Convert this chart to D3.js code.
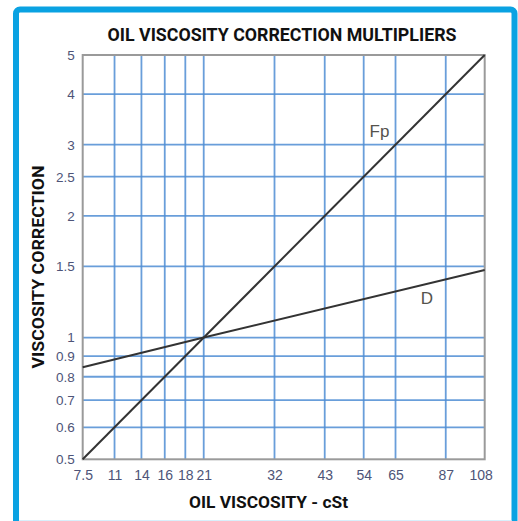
<!DOCTYPE html>
<html>
<head>
<meta charset="utf-8">
<script src="https://cdn.jsdelivr.net/npm/d3@7/dist/d3.min.js"></script>
<style>
  html, body { margin: 0; padding: 0; background: #fff; }
  svg { display: block; }
</style>
</head>
<body>
<script>
// Underlying x positions are SSU values; labels are the equivalent cSt values
const xTickSSU = [50, 60, 70, 80, 90, 100, 150, 200, 250, 300, 400, 500];
const xTickLabels = ["7.5", "11", "14", "16", "18", "21", "32", "43", "54", "65", "87", "108"];
const yTicks = [0.5, 0.6, 0.7, 0.8, 0.9, 1, 1.5, 2, 2.5, 3, 4, 5];
const yTickLabels = ["0.5", "0.6", "0.7", "0.8", "0.9", "1", "1.5", "2", "2.5", "3", "4", "5"];
const fpSSU = [50, 500];
const fpValues = [0.5, 5];
const dSSU = [50, 100, 500];
const dValues = [0.845, 1, 1.47];

const W = 518, H = 521;
const pLeft = 82.7, pRight = 484.7, pTop = 55, pBottom = 459.3;

const svg = d3.select("body").append("svg").attr("width", W).attr("height", H);

// outer blue frame (bottom edge falls just outside the picture)
svg.append("rect")
  .attr("x", 16).attr("y", 9.5).attr("width", 498.5).attr("height", 515)
  .attr("rx", 4).attr("fill", "none").attr("stroke", "#0aa2e2").attr("stroke-width", 6);
svg.append("line").attr("x1", 19).attr("x2", 511.5).attr("y1", 520.5).attr("y2", 520.5)
  .attr("stroke", "#d8f0fb").attr("stroke-width", 1);

const x = d3.scaleLog().domain([50, 500]).range([pLeft, pRight]);
const y = d3.scaleLog().domain([0.5, 5]).range([pBottom, pTop]);

// grid
const grid = svg.append("g").attr("stroke", "#4f8dd3").attr("stroke-width", 1.8).attr("stroke-opacity", 0.85);
grid.selectAll("line.v").data(xTickSSU.slice(1, -1)).join("line")
  .attr("x1", d => x(d)).attr("x2", d => x(d)).attr("y1", pTop).attr("y2", pBottom);
grid.selectAll("line.h").data(yTicks.slice(1, -1)).join("line")
  .attr("y1", d => y(d)).attr("y2", d => y(d)).attr("x1", pLeft).attr("x2", pRight);

// plot border
svg.append("rect").attr("x", pLeft).attr("y", pTop).attr("width", pRight - pLeft).attr("height", pBottom - pTop)
  .attr("fill", "none").attr("stroke", "#9a9a9a").attr("stroke-width", 2);

// axes labels
const xAxis = d3.axisBottom(x).tickValues(xTickSSU)
  .tickFormat((d, i) => xTickLabels[i]).tickSize(0).tickPadding(11);
const gx = svg.append("g").attr("transform", `translate(0,${pBottom})`).call(xAxis);
gx.select(".domain").remove();
gx.selectAll("text").attr("font-family", "Liberation Sans, Arial, sans-serif").attr("font-size", 14).attr("fill", "#4e5478")
  .attr("dx", (d, i) => i === xTickSSU.length - 1 ? -4 : 0);

const yAxis = d3.axisLeft(y).tickValues(yTicks)
  .tickFormat((d, i) => yTickLabels[i]).tickSize(0).tickPadding(8);
const gy = svg.append("g").attr("transform", `translate(${pLeft},0)`).call(yAxis);
gy.select(".domain").remove();
gy.selectAll("text").attr("font-family", "Liberation Sans, Arial, sans-serif").attr("font-size", 13.5).attr("fill", "#4e5478");

// curves
const line = d3.line().x(d => x(d[0])).y(d => y(d[1]));
svg.append("path").datum(fpSSU.map((s, i) => [s, fpValues[i]]))
  .attr("d", line).attr("fill", "none").attr("stroke", "#333").attr("stroke-width", 2);
svg.append("path").datum(dSSU.map((s, i) => [s, dValues[i]]))
  .attr("d", line).attr("fill", "none").attr("stroke", "#333").attr("stroke-width", 2);

// curve labels
svg.append("text").attr("x", x(300) - 26).attr("y", y(3) - 8)
  .attr("font-family", "Liberation Sans, Arial, sans-serif").attr("font-size", 17).attr("fill", "#55534d").text("Fp");
svg.append("text").attr("x", x(400) - 25).attr("y", y(1.2) - 2)
  .attr("font-family", "Liberation Sans, Arial, sans-serif").attr("font-size", 17).attr("fill", "#55534d").text("D");

// titles
svg.append("text").attr("x", 282).attr("y", 41).attr("text-anchor", "middle")
  .attr("font-family", "Roboto, sans-serif").attr("font-weight", "bold").attr("font-size", 18)
  .attr("textLength", 349).attr("lengthAdjust", "spacingAndGlyphs").attr("fill", "#111")
  .text("OIL VISCOSITY CORRECTION MULTIPLIERS");
svg.append("text").attr("x", 268.5).attr("y", 508).attr("text-anchor", "middle")
  .attr("font-family", "Roboto, sans-serif").attr("font-weight", "bold").attr("font-size", 17)
  .attr("textLength", 159).attr("lengthAdjust", "spacingAndGlyphs").attr("fill", "#111")
  .text("OIL VISCOSITY - cSt");
svg.append("text").attr("transform", "translate(44,267) rotate(-90)").attr("text-anchor", "middle")
  .attr("font-family", "Roboto, sans-serif").attr("font-weight", "bold").attr("font-size", 17)
  .attr("textLength", 203).attr("lengthAdjust", "spacingAndGlyphs").attr("fill", "#111")
  .text("VISCOSITY CORRECTION");
</script>
</body>
</html>
